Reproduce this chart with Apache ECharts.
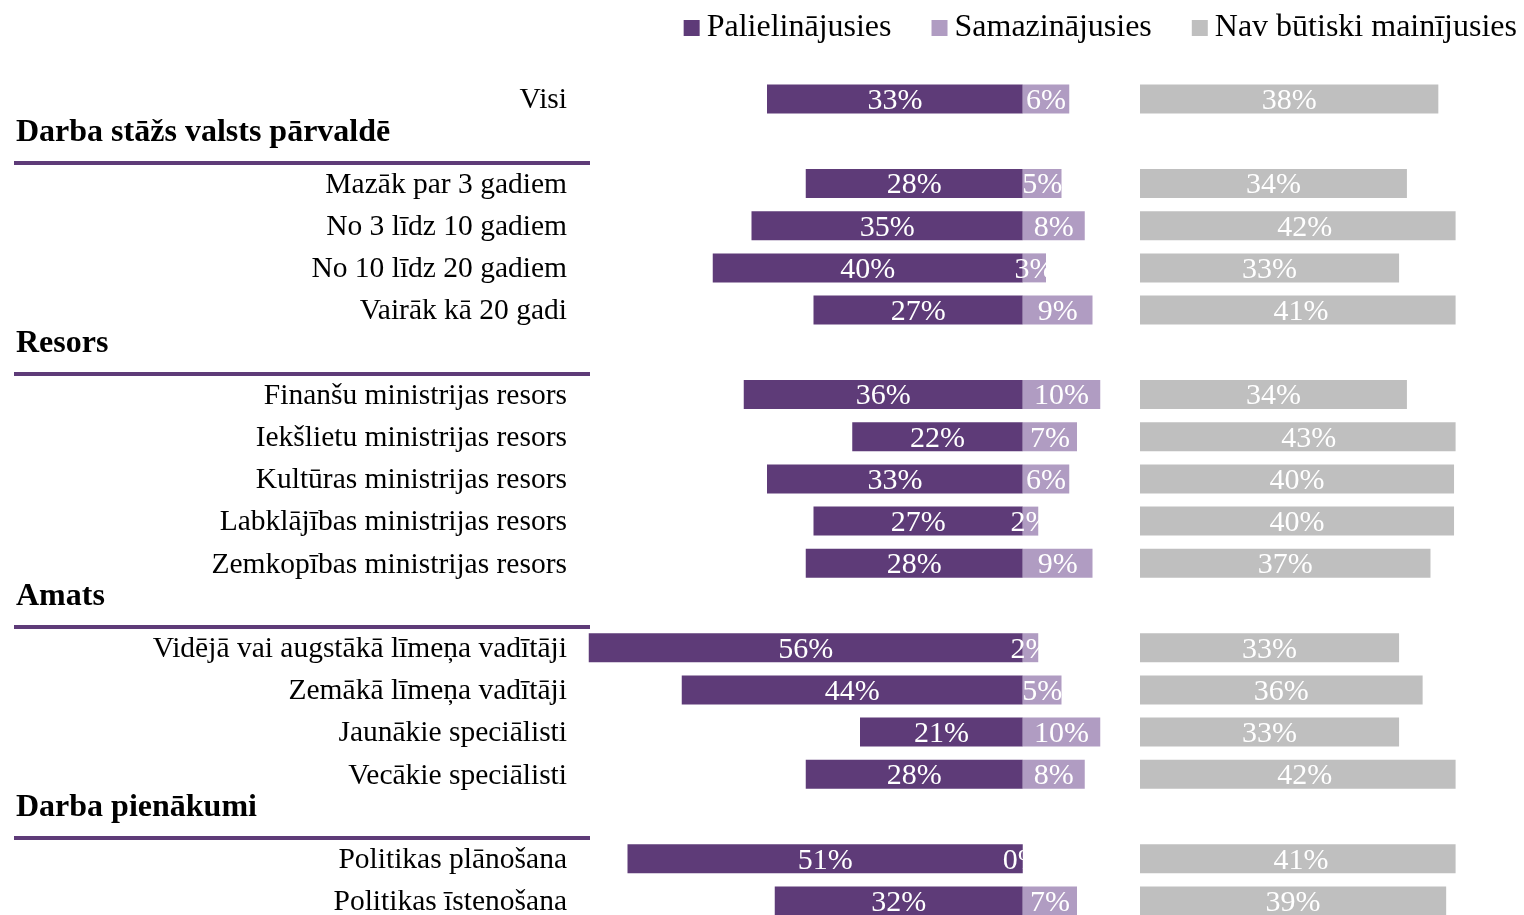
<!DOCTYPE html>
<html>
<head>
<meta charset="utf-8">
<script src="https://cdn.jsdelivr.net/npm/echarts@6/dist/echarts.min.js"></script>
<style>
html,body{margin:0;padding:0;background:#fff;}
#chart{width:1524px;height:915px;}
</style>
</head>
<body>
<div id="chart"></div>
<script>
// ---- data ----
const categories = [
  'Visi',
  'Darba stāžs valsts pārvaldē',
  'Mazāk par 3 gadiem',
  'No 3 līdz 10 gadiem',
  'No 10 līdz 20 gadiem',
  'Vairāk kā 20 gadi',
  'Resors',
  'Finanšu ministrijas resors',
  'Iekšlietu ministrijas resors',
  'Kultūras ministrijas resors',
  'Labklājības ministrijas resors',
  'Zemkopības ministrijas resors',
  'Amats',
  'Vidējā vai augstākā līmeņa vadītāji',
  'Zemākā līmeņa vadītāji',
  'Jaunākie speciālisti',
  'Vecākie speciālisti',
  'Darba pienākumi',
  'Politikas plānošana',
  'Politikas īstenošana'
];
const headings = ['Darba stāžs valsts pārvaldē', 'Resors', 'Amats', 'Darba pienākumi'];
const seriesNames = ['Palielinājusies', 'Samazinājusies', 'Nav būtiski mainījusies'];
const increased = [33, null, 28, 35, 40, 27, null, 36, 22, 33, 27, 28, null, 56, 44, 21, 28, null, 51, 32];
const decreased = [6, null, 5, 8, 3, 9, null, 10, 7, 6, 2, 9, null, 2, 5, 10, 8, null, 0, 7];
const unchanged = [38, null, 34, 42, 33, 41, null, 34, 43, 40, 40, 37, null, 33, 36, 33, 42, null, 41, 39];

// ---- styles ----
const C_DARK = '#5e3b78', C_LIGHT = '#b09cc2', C_GRAY = '#bfbfbf';
const FONT = '"Liberation Serif", "Times New Roman", serif';
const isHeading = (name) => headings.indexOf(name) >= 0;
const headingIdx = categories.map((c, i) => isHeading(c) ? i : -1).filter(i => i >= 0);

const chart = echarts.init(document.getElementById('chart'));
const gridTop = 78, gridHeight = 844;

const pctLabel = {
  show: true, position: 'inside', color: '#fff', fontFamily: FONT, fontSize: 30,
  offset: [0, 2],
  formatter: p => Math.abs(p.value) + '%'
};

const option = {
  backgroundColor: '#fff',
  animation: false,
  legend: {
    top: 7, right: 2, itemGap: 40, itemWidth: 16, itemHeight: 16, icon: 'rect',
    textStyle: { fontFamily: FONT, fontSize: 32, color: '#000', padding: [0, 0, 0, 2] },
    data: seriesNames
  },
  grid: [
    { left: 14, width: 576, top: gridTop, height: gridHeight, outerBoundsMode: 'none' },
    { left: 581, width: 558, top: gridTop, height: gridHeight, outerBoundsMode: 'none' },
    { left: 1140, width: 315.6, top: gridTop, height: gridHeight, outerBoundsMode: 'none' }
  ],
  xAxis: [
    { gridIndex: 0, type: 'value', min: 0, max: 1, show: false },
    { gridIndex: 1, type: 'value', min: -57, max: 15, show: false },
    { gridIndex: 2, type: 'value', min: 0, max: 40.2, show: false }
  ],
  yAxis: [
    {
      gridIndex: 0, type: 'category', inverse: true, data: categories,
      axisLine: { show: false }, axisTick: { show: false },
      splitLine: {
        show: true,
        interval: (index) => headingIdx.indexOf(index - 1) >= 0,
        lineStyle: { color: C_DARK, width: 4 }
      },
      axisLabel: {
        inside: true, margin: 2, interval: 0, align: 'left',
        formatter: v => isHeading(v) ? '{h|' + v + '}' : '',
        rich: {
          h: {
            fontFamily: FONT, fontSize: 32, fontWeight: 'bold', color: '#000',
            padding: [0, 0, 18, 0]
          }
        }
      }
    },
    {
      gridIndex: 1, type: 'category', inverse: true, data: categories,
      axisLine: { show: false }, axisTick: { show: false }, splitLine: { show: false },
      axisLabel: {
        margin: 14, interval: 0,
        formatter: v => isHeading(v) ? '' : '{n|' + v + '}',
        rich: {
          n: { fontFamily: FONT, fontSize: 29.5, color: '#000', padding: [3, 0, 0, 0] }
        }
      }
    },
    {
      gridIndex: 2, type: 'category', inverse: true, data: categories, show: false
    }
  ],
  series: [
    {
      name: seriesNames[0], type: 'bar', xAxisIndex: 1, yAxisIndex: 1,
      barWidth: 29, barGap: '-100%',
      itemStyle: { color: C_DARK },
      label: pctLabel,
      data: increased.map(v => v == null ? null : -v)
    },
    {
      name: seriesNames[1], type: 'bar', xAxisIndex: 1, yAxisIndex: 1,
      barWidth: 29, barGap: '-100%',
      itemStyle: { color: C_LIGHT },
      label: pctLabel,
      data: decreased
    },
    {
      name: seriesNames[2], type: 'custom', xAxisIndex: 2, yAxisIndex: 2,
      itemStyle: { color: C_GRAY },
      encode: { x: 0, y: 1 },
      data: unchanged.map((v, i) => v == null ? null : [v, i]),
      renderItem: function (params, api) {
        const v = api.value(0), idx = api.value(1);
        const p0 = api.coord([0, idx]);
        const p1 = api.coord([v, idx]);
        const h = 29;
        const cs = params.coordSys;
        const rect = echarts.graphic.clipRectByRect(
          { x: p0[0], y: p0[1] - h / 2, width: p1[0] - p0[0], height: h },
          { x: cs.x, y: cs.y - 100, width: cs.width, height: cs.height + 200 }
        );
        return {
          type: 'group',
          children: [
            { type: 'rect', shape: rect, style: { fill: C_GRAY } },
            {
              type: 'text', x: (p0[0] + p1[0]) / 2, y: p0[1] + 2,
              style: {
                text: v + '%', fill: '#fff', fontFamily: FONT, fontSize: 30,
                align: 'center', verticalAlign: 'middle'
              }
            }
          ]
        };
      }
    }
  ]
};
chart.setOption(option);
</script>
</body>
</html>
